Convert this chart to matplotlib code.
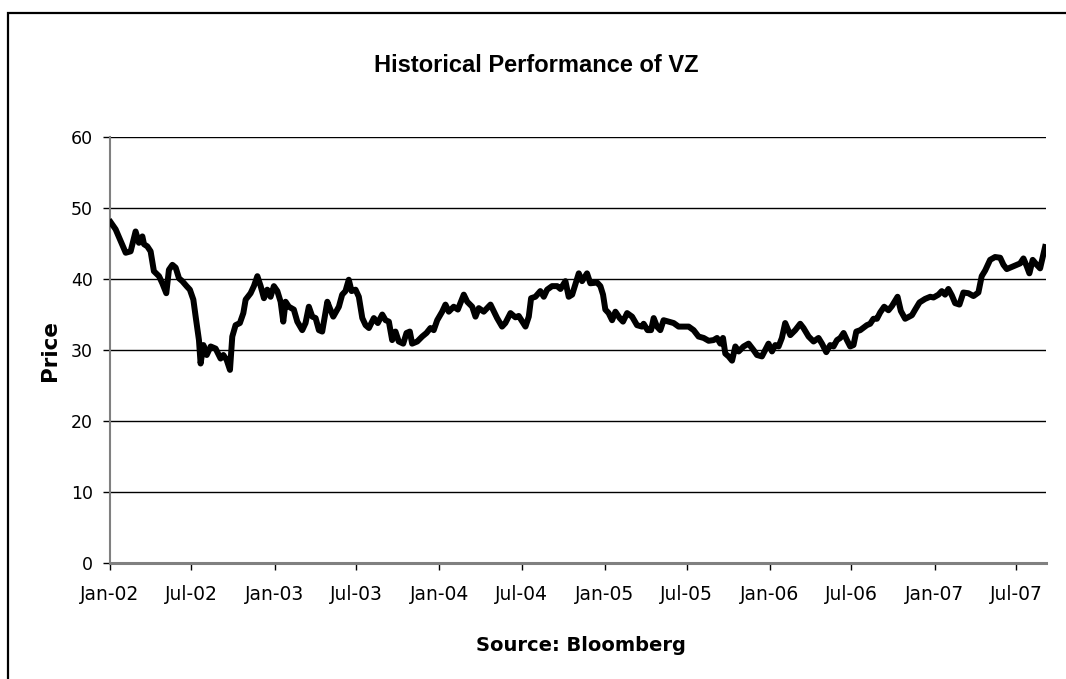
import numpy as np
import pandas as pd
import matplotlib
matplotlib.use('Agg')
import matplotlib.pyplot as plt
import matplotlib.dates as mdates
from matplotlib.patches import Rectangle

# VZ closing price (decimal year, price)
year = [2002.006, 2002.036, 2002.097, 2002.127, 2002.157, 2002.177, 2002.198, 2002.208,
        2002.228, 2002.248, 2002.268, 2002.299, 2002.319, 2002.343, 2002.359, 2002.380,
        2002.400, 2002.420, 2002.440, 2002.466, 2002.486, 2002.507, 2002.521, 2002.541,
        2002.551, 2002.568, 2002.588, 2002.612, 2002.642, 2002.672, 2002.689, 2002.709,
        2002.729, 2002.743, 2002.763, 2002.789, 2002.810, 2002.824, 2002.854, 2002.874,
        2002.895, 2002.915, 2002.935, 2002.955, 2002.975, 2002.995, 2003.016, 2003.036,
        2003.052, 2003.066, 2003.086, 2003.116, 2003.137, 2003.167, 2003.187, 2003.207,
        2003.228, 2003.248, 2003.268, 2003.288, 2003.319, 2003.334, 2003.355, 2003.389,
        2003.409, 2003.429, 2003.449, 2003.466, 2003.490, 2003.510, 2003.531, 2003.551,
        2003.571, 2003.601, 2003.625, 2003.652, 2003.672, 2003.692, 2003.712, 2003.732,
        2003.752, 2003.779, 2003.799, 2003.819, 2003.833, 2003.864, 2003.894, 2003.920,
        2003.944, 2003.964, 2003.985, 2004.015, 2004.035, 2004.055, 2004.085, 2004.110,
        2004.146, 2004.167, 2004.197, 2004.217, 2004.237, 2004.267, 2004.308, 2004.348,
        2004.378, 2004.398, 2004.429, 2004.459, 2004.479, 2004.520, 2004.540, 2004.554,
        2004.580, 2004.610, 2004.631, 2004.651, 2004.681, 2004.712, 2004.732, 2004.762,
        2004.782, 2004.803, 2004.843, 2004.863, 2004.893, 2004.913, 2004.954, 2004.974,
        2004.990, 2005.004, 2005.024, 2005.045, 2005.065, 2005.091, 2005.111, 2005.136,
        2005.166, 2005.196, 2005.226, 2005.236, 2005.260, 2005.281, 2005.297, 2005.317,
        2005.337, 2005.357, 2005.388, 2005.418, 2005.448, 2005.478, 2005.509, 2005.539,
        2005.569, 2005.600, 2005.630, 2005.660, 2005.681, 2005.701, 2005.717, 2005.731,
        2005.751, 2005.772, 2005.792, 2005.812, 2005.842, 2005.872, 2005.902, 2005.923,
        2005.953, 2005.973, 2005.993, 2006.014, 2006.034, 2006.054, 2006.074, 2006.094,
        2006.125, 2006.155, 2006.185, 2006.205, 2006.236, 2006.266, 2006.296, 2006.317,
        2006.343, 2006.367, 2006.387, 2006.408, 2006.428, 2006.448, 2006.468, 2006.488,
        2006.508, 2006.525, 2006.549, 2006.589, 2006.609, 2006.629, 2006.650, 2006.670,
        2006.694, 2006.720, 2006.741, 2006.775, 2006.795, 2006.821, 2006.862, 2006.882,
        2006.908, 2006.942, 2006.973, 2006.993, 2007.023, 2007.043, 2007.063, 2007.083,
        2007.104, 2007.124, 2007.150, 2007.174, 2007.204, 2007.235, 2007.265, 2007.285,
        2007.306, 2007.336, 2007.366, 2007.397, 2007.417, 2007.437, 2007.467, 2007.498,
        2007.518, 2007.538, 2007.558, 2007.574, 2007.594, 2007.619, 2007.639, 2007.669]
price = [48.0, 47.0, 43.7, 43.9, 46.7, 45.1, 46.0, 44.9,
         44.6, 43.9, 41.1, 40.4, 39.4, 38.0, 41.3, 42.0,
         41.6, 40.1, 39.7, 39.0, 38.5, 37.1, 34.7, 31.4,
         28.1, 30.7, 29.3, 30.5, 30.2, 28.8, 29.3, 28.6,
         27.2, 31.9, 33.5, 33.8, 35.2, 37.1, 38.0, 39.0,
         40.4, 39.0, 37.3, 38.5, 37.5, 39.0, 38.3, 36.8,
         34.0, 36.8, 36.1, 35.7, 34.0, 32.8, 33.8, 36.1,
         34.7, 34.5, 32.8, 32.6, 36.8, 35.9, 34.7, 36.1,
         37.8, 38.3, 39.9, 38.3, 38.5, 37.5, 34.5, 33.5,
         33.1, 34.5, 33.8, 35.0, 34.2, 34.0, 31.4, 32.6,
         31.2, 30.9, 32.4, 32.6, 30.9, 31.2, 31.9, 32.4,
         33.1, 32.8, 34.2, 35.4, 36.4, 35.4, 36.1, 35.7,
         37.8, 36.8, 36.1, 34.7, 35.9, 35.4, 36.4, 34.5,
         33.3, 33.8, 35.2, 34.6, 34.8, 33.3, 34.7, 37.3,
         37.5, 38.3, 37.5, 38.5, 39.0, 39.0, 38.6, 39.7,
         37.5, 37.8, 40.8, 39.7, 40.8, 39.4, 39.5, 39.0,
         37.8, 35.7, 35.2, 34.2, 35.4, 34.5, 34.0, 35.2,
         34.7, 33.5, 33.3, 33.7, 32.8, 32.8, 34.5, 33.3,
         32.8, 34.2, 34.0, 33.8, 33.3, 33.3, 33.3, 32.8,
         31.9, 31.7, 31.3, 31.4, 31.7, 30.9, 31.7, 29.5,
         29.1, 28.5, 30.5, 29.8, 30.5, 30.9, 30.0, 29.3,
         29.1, 30.0, 30.9, 29.8, 30.7, 30.5, 31.7, 33.8,
         32.1, 32.8, 33.7, 33.1, 31.9, 31.2, 31.7, 30.9,
         29.7, 30.7, 30.5, 31.4, 31.7, 32.4, 31.4, 30.5,
         30.7, 32.6, 32.8, 33.5, 33.7, 34.4, 34.4, 35.3,
         36.1, 35.6, 36.2, 37.5, 35.5, 34.4, 34.9, 35.7,
         36.7, 37.2, 37.5, 37.4, 37.8, 38.3, 37.8, 38.6,
         37.7, 36.6, 36.4, 38.1, 38.0, 37.6, 38.1, 40.4,
         41.2, 42.7, 43.1, 43.0, 42.0, 41.4, 41.7, 42.0,
         42.2, 42.9, 41.8, 40.8, 42.7, 42.0, 41.5, 44.5]

y_ticks = [0, 10, 20, 30, 40, 50, 60]
chart_title = 'Historical Performance of VZ'
source_note = 'Source: Bloomberg'


def plot_vz():
    dates = pd.Timestamp('2002-01-01') + pd.to_timedelta((np.array(year) - 2002) * 365.25, unit='D')

    fig = plt.figure(figsize=(10.66, 6.79), dpi=100)
    ax = fig.add_axes([0.1029, 0.1708, 0.8783, 0.6274])

    ax.plot(dates, price, color='black', linewidth=4.3, solid_joinstyle='round', zorder=3)

    ax.set_xlim(pd.Timestamp('2002-01-01'), dates[-1] + pd.Timedelta(days=2))
    ax.set_ylim(0, 60)
    ax.set_yticks(y_ticks)
    ax.xaxis.set_major_locator(mdates.MonthLocator(bymonth=[1, 7]))
    ax.xaxis.set_major_formatter(mdates.DateFormatter('%b-%y'))

    # horizontal grid like excel
    ax.yaxis.grid(True, color='black', linewidth=1.0)
    ax.set_axisbelow(True)

    for s in ['top', 'right']:
        ax.spines[s].set_visible(False)
    ax.spines['left'].set_color('#808080')
    ax.spines['left'].set_linewidth(1.5)
    ax.spines['bottom'].set_color('#808080')
    ax.spines['bottom'].set_linewidth(2.2)
    ax.spines['bottom'].set_zorder(4)

    ax.tick_params(axis='x', direction='out', length=5, width=1, colors='black',
                   labelsize=13.5, pad=11)
    ax.tick_params(axis='y', direction='out', length=5, width=1, colors='black',
                   labelsize=12.5, pad=7)
    for lab in ax.get_xticklabels() + ax.get_yticklabels():
        lab.set_fontfamily('DejaVu Sans')

    ax.set_ylabel('Price', fontsize=15.5, fontweight='bold', family='DejaVu Sans', labelpad=8)

    fig.text(0.503, 0.903, chart_title, ha='center', va='center',
             fontsize=17, fontweight='bold', family='Liberation Sans')
    fig.text(0.545, 0.050, source_note, ha='center', va='center',
             fontsize=14, fontweight='bold', family='DejaVu Sans')

    # chart area border (runs off right and bottom edge)
    fig.patches.append(Rectangle((8 / 1066, -0.1), 1.2, 1.0809, transform=fig.transFigure,
                                 fill=False, edgecolor='black', linewidth=1.6))

    fig.savefig('out.png', dpi=100)


if __name__ == '__main__':
    plot_vz()
